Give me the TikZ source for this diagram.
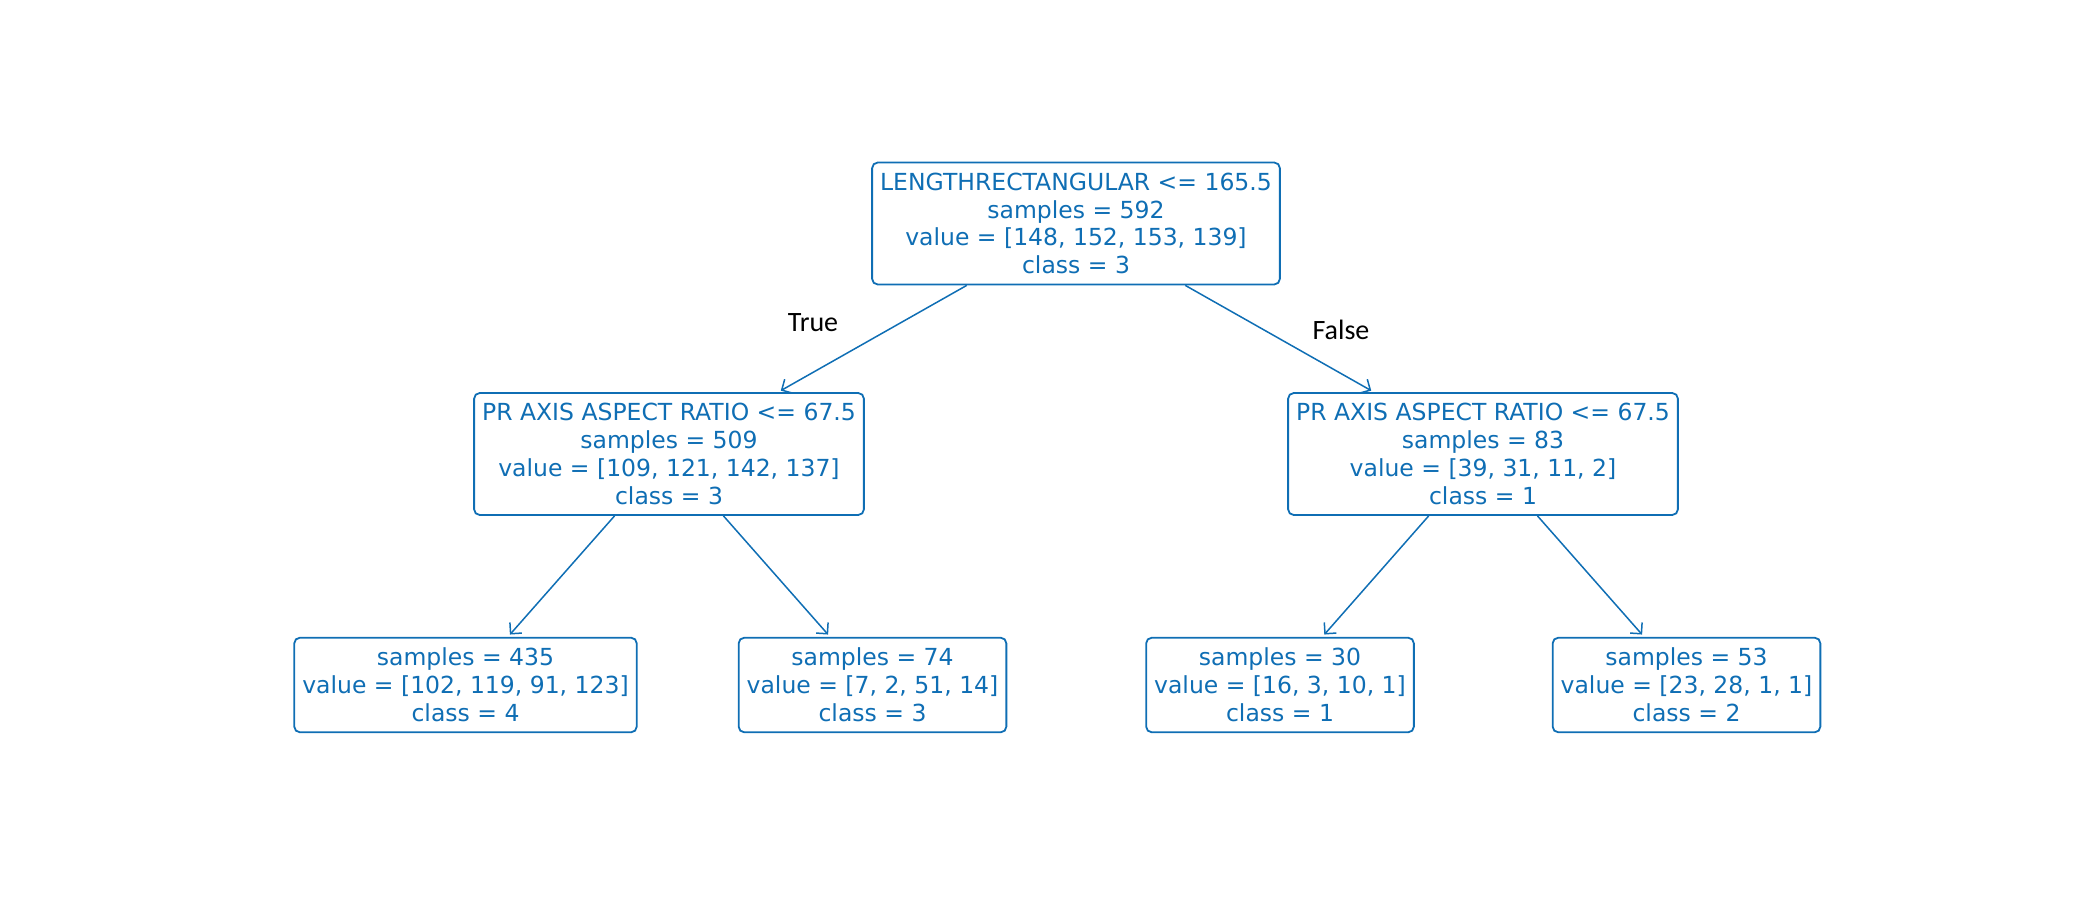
\documentclass[tikz,border=0pt]{standalone}
\usepackage{fontspec}
\setmainfont{DejaVu Sans}
\newfontfamily\edgefont{Carlito}
\usetikzlibrary{arrows.meta}
\definecolor{treeblue}{HTML}{0F6EB4}
\begin{document}
\begin{tikzpicture}[x=1pt,y=1pt,
  treenode/.style={draw=treeblue, text=treeblue, line width=0.9pt, rounded corners=2.8pt,
    align=center, inner xsep=4pt, inner ysep=5.2pt,
    font=\fontsize{11.75}{13.9}\selectfont},
  treeedge/.style={draw=treeblue, line width=0.75pt,
    -{Straight Barb[length=4pt,width=8pt]}, shorten >=1.5pt},
  edgelabel/.style={font=\edgefont\fontsize{14}{16}\selectfont, text=black}]
\useasboundingbox (0,0) rectangle (1050,-450);

\node[treenode] (root) at (538,-111.75)
  {LENGTHRECTANGULAR <= 165.5\\samples = 592\\value = [148, 152, 153, 139]\\class = 3};
\node[treenode] (l) at (334.5,-227)
  {PR AXIS ASPECT RATIO <= 67.5\\samples = 509\\value = [109, 121, 142, 137]\\class = 3};
\node[treenode] (r) at (741.5,-227)
  {PR AXIS ASPECT RATIO <= 67.5\\samples = 83\\value = [39, 31, 11, 2]\\class = 1};
\node[treenode] (ll) at (232.75,-342.5)
  {samples = 435\\value = [102, 119, 91, 123]\\class = 4};
\node[treenode] (lr) at (436.25,-342.5)
  {samples = 74\\value = [7, 2, 51, 14]\\class = 3};
\node[treenode] (rl) at (640,-342.5)
  {samples = 30\\value = [16, 3, 10, 1]\\class = 1};
\node[treenode] (rr) at (843.25,-342.5)
  {samples = 53\\value = [23, 28, 1, 1]\\class = 2};

\draw[treeedge] (root) -- (l);
\draw[treeedge] (root) -- (r);
\draw[treeedge] (l) -- (ll);
\draw[treeedge] (l) -- (lr);
\draw[treeedge] (r) -- (rl);
\draw[treeedge] (r) -- (rr);

\node[edgelabel] (truelabel) at (406.5,-161.5) {True};
\node[edgelabel] (falselabel) at (670.5,-164.8) {False};
\end{tikzpicture}
\end{document}
